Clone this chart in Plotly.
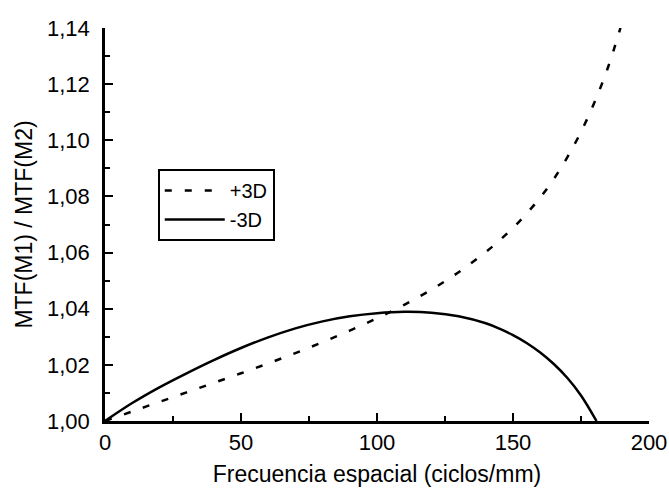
import plotly.graph_objects as go

# +3D (dashed)
freq_p3 = [0, 10, 20, 30, 40, 50, 60, 70, 80, 90, 100, 110, 120, 130, 140,
           145, 150, 155, 160, 165, 170, 175, 180, 185, 189.5]
mtf_p3 = [1.0000, 1.0034, 1.0068, 1.0102, 1.0136, 1.0170, 1.0205, 1.0242,
          1.0281, 1.0322, 1.0366, 1.0414, 1.0468, 1.0530, 1.0602, 1.0643,
          1.0688, 1.0739, 1.0796, 1.0862, 1.0940, 1.1030, 1.1136, 1.1262,
          1.1400]

# -3D (solid)
freq_m3 = [0, 10, 20, 30, 40, 50, 60, 70, 80, 90, 100, 110, 120, 130, 140,
           145, 150, 155, 160, 165, 170, 175, 180.7]
mtf_m3 = [1.0000, 1.0064, 1.0120, 1.0170, 1.0217, 1.0260, 1.0298, 1.0330,
          1.0355, 1.0373, 1.0384, 1.0389, 1.0386, 1.0373, 1.0348, 1.0329,
          1.0306, 1.0278, 1.0244, 1.0203, 1.0153, 1.0091, 1.0000]

x_title = "Frecuencia espacial (ciclos/mm)"
y_title = "MTF(M1) / MTF(M2)"

FONT = "Liberation Sans, Arial, sans-serif"

fig = go.Figure()
fig.add_trace(go.Scatter(x=freq_p3, y=mtf_p3, mode="lines", name="+3D",
                         line=dict(color="black", width=2.5, dash="7px,13px",
                                   shape="spline")))
fig.add_trace(go.Scatter(x=freq_m3, y=mtf_m3, mode="lines", name="-3D",
                         line=dict(color="black", width=2.5, shape="spline")))

fig.update_layout(
    width=669, height=490,
    margin=dict(l=105, r=20, t=28, b=69, autoexpand=False),
    paper_bgcolor="white", plot_bgcolor="white",
    font=dict(family=FONT, color="black", size=22),
    separators=", ",
    legend=dict(x=0.097, y=0.641, xanchor="left", yanchor="top",
                bordercolor="black", borderwidth=2, bgcolor="white",
                font=dict(size=20, color="black"), tracegroupgap=0,
                itemwidth=60),
)
fig.update_xaxes(
    range=[0, 200], showline=True, linecolor="black", linewidth=2.5,
    showgrid=False, zeroline=False, ticks="inside", ticklen=8, tickwidth=2,
    tickcolor="black", dtick=50, tick0=0, automargin=False,
    minor=dict(ticks="inside", ticklen=5, tickwidth=2, dtick=25, tickcolor="black"),
    tickfont=dict(size=22, color="black"),
    title=dict(text=x_title, font=dict(size=23, color="black"), standoff=12),
)
fig.update_yaxes(
    range=[1.0, 1.14], showline=True, linecolor="black", linewidth=2.5,
    showgrid=False, zeroline=False, ticks="inside", ticklen=8, tickwidth=2,
    tickcolor="black", dtick=0.02, tick0=1.0, tickformat=".2f", automargin=False,
    minor=dict(ticks="inside", ticklen=5, tickwidth=2, dtick=0.01, tickcolor="black"),
    tickfont=dict(size=22, color="black"), ticklabelstandoff=8,
    title=dict(text=y_title, font=dict(size=23, color="black"), standoff=8),
)

fig.write_html("out.html")
